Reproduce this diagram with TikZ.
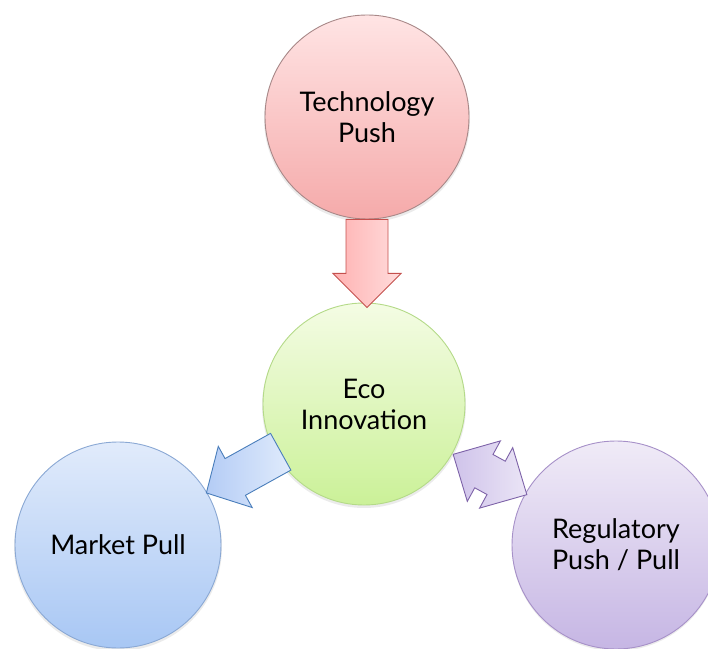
\documentclass[tikz,border=0pt]{standalone}
\usepackage{fontspec}
\setmainfont{Lato}
\usetikzlibrary{calc}
\definecolor{techTop}{HTML}{FFE4E4}
\definecolor{techBot}{HTML}{F5AAAA}
\definecolor{techLine}{HTML}{A88888}
\definecolor{ecoTop}{HTML}{F4FCE4}
\definecolor{ecoBot}{HTML}{CBF198}
\definecolor{ecoLine}{HTML}{B4DA88}
\definecolor{mktTop}{HTML}{E1EBFB}
\definecolor{mktBot}{HTML}{A8C7F4}
\definecolor{mktLine}{HTML}{8AA8D4}
\definecolor{regTop}{HTML}{F0EBF7}
\definecolor{regBot}{HTML}{C6B6E4}
\definecolor{regLine}{HTML}{A690C8}
\definecolor{arTechA}{HTML}{FFB2B2}
\definecolor{arTechB}{HTML}{FFDCDC}
\definecolor{arTechL}{HTML}{C4504D}
\definecolor{arMktA}{HTML}{B4CCF5}
\definecolor{arMktB}{HTML}{E0EBFC}
\definecolor{arMktL}{HTML}{4A7EBB}
\definecolor{arRegA}{HTML}{CFC3EA}
\definecolor{arRegB}{HTML}{EBE5F6}
\definecolor{arRegL}{HTML}{7D62A8}
\tikzset{
  bubble/.style={circle, inner sep=0pt, align=center, font=\fontsize{27}{31}\selectfont, line width=0.9pt},
  blockarrow/.style={line width=0.9pt, line join=miter},
}
\newcommand{\singlearrowpath}[4]{(0,-#2) -- (#1-#4,-#2) -- (#1-#4,-#3) -- (#1,0) -- (#1-#4,#3) -- (#1-#4,#2) -- (0,#2) -- cycle}
\begin{document}
\begin{tikzpicture}[x=1pt,y=1pt]
\useasboundingbox (0,0) rectangle (708,648);
% shadows
\fill[black,opacity=0.08] (367,529) circle (103);
\fill[black,opacity=0.08] (364,242) circle (102);
\fill[black,opacity=0.08] (118,101) circle (104);
\fill[black,opacity=0.08] (616,101) circle (104);
% circles
\node[bubble, minimum size=204pt, top color=techTop, bottom color=techBot, draw=techLine] (tech) at (367,531) {Technology\\Push};
\node[bubble, minimum size=202pt, top color=ecoTop, bottom color=ecoBot, draw=ecoLine] (eco) at (364,244) {Eco\\Innovation};
\node[bubble, minimum size=206pt, top color=mktTop, bottom color=mktBot, draw=mktLine] (market) at (118,103) {Market Pull};
\node[bubble, minimum size=208pt, top color=regTop, bottom color=regBot, draw=regLine] (reg) at (616,103) {Regulatory\\Push / Pull};
% arrow tech -> eco
\begin{scope}[shift={(tech.south)}, rotate=-90]
  \draw[blockarrow, draw=arTechL, left color=arTechA, right color=arTechB, shading angle=90] \singlearrowpath{88}{21}{34}{34};
\end{scope}
% arrow eco -> market
\begin{scope}[shift={($(eco)!96pt!(market)$)}, rotate=209]
  \draw[blockarrow, draw=arMktL, left color=arMktA, right color=arMktB] \singlearrowpath{85}{21}{35}{33};
\end{scope}
% double arrow eco <-> reg
\begin{scope}[shift={($(eco)!0.5!(reg)$)}, rotate=-28.7]
  \draw[blockarrow, draw=arRegL, left color=arRegA, right color=arRegB]
    (-42,0) -- (-7,34.5) -- (-7,19) -- (7,19) -- (7,34.5) -- (42,0) -- (7,-34.5) -- (7,-19) -- (-7,-19) -- (-7,-34.5) -- cycle;
\end{scope}
\end{tikzpicture}
\end{document}
